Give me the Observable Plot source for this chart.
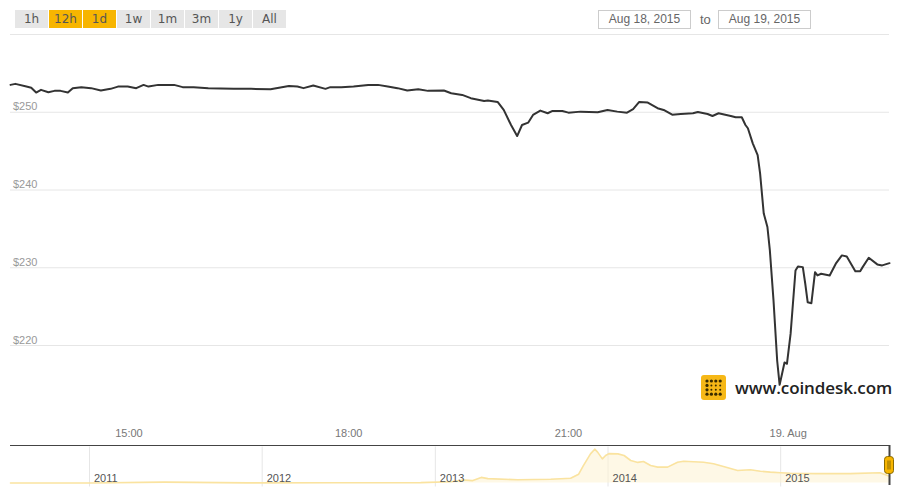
<!DOCTYPE html>
<html>
<head>
<meta charset="utf-8">
<script src="https://cdn.jsdelivr.net/npm/d3@7"></script>
<script src="https://cdn.jsdelivr.net/npm/@observablehq/plot@0.6"></script>
<style>
  body { margin: 0; background: #fff; }
  #wrap { position: relative; width: 900px; height: 500px; overflow: hidden; font-family: "Liberation Sans", Arial, sans-serif; }
  #main, #nav { position: absolute; left: 0; }
  #main { top: 0; }
  #nav { top: 440px; }
  .btn { position: absolute; top: 10px; height: 18px; width: 33px; background: #e6e6e6; color: #555;
         font: 12px "DejaVu Sans", sans-serif; line-height: 18px; text-align: center; z-index: 2; }
  .btn.sel { background: #f7b500; }
  .date { position: absolute; top: 10px; height: 19px; width: 93px; box-sizing: border-box; border: 1px solid #ccc;
          color: #666; font: 12px "Liberation Sans", Arial, sans-serif; line-height: 17px; text-align: center; background: #fff; z-index: 2; }
  .to { position: absolute; top: 11px; left: 700px; color: #666; font: 13px "Liberation Sans", Arial, sans-serif; line-height: 17px; z-index: 2; }
  #logo { position: absolute; left: 701px; top: 375px; z-index: 2; display: flex; align-items: center; }
  #logo span { margin-left: 9px; font: 600 17px "Open Sans", sans-serif; color: #222; letter-spacing: -0.1px; }
</style>
</head>
<body>
<div id="wrap">
  <div id="controls"></div>
  <div id="main"></div>
  <div id="nav"></div>
  <div id="logo"></div>
</div>
<script>
// ---------- data ----------
const rangeButtons = ["1h", "12h", "1d", "1w", "1m", "3m", "1y", "All"];
const selectedButtons = ["12h", "1d"];
const dateFrom = "Aug 18, 2015";
const dateTo = "Aug 19, 2015";

const priceTimes = [
  "2015-08-18 13:23","2015-08-18 13:27","2015-08-18 13:36","2015-08-18 13:40","2015-08-18 13:44","2015-08-18 13:48",
  "2015-08-18 13:54","2015-08-18 13:59","2015-08-18 14:04","2015-08-18 14:10","2015-08-18 14:14","2015-08-18 14:21",
  "2015-08-18 14:29","2015-08-18 14:37","2015-08-18 14:45","2015-08-18 14:51","2015-08-18 14:59","2015-08-18 15:06",
  "2015-08-18 15:12","2015-08-18 15:16","2015-08-18 15:24","2015-08-18 15:37","2015-08-18 15:44","2015-08-18 15:53",
  "2015-08-18 16:05","2015-08-18 16:15","2015-08-18 16:26","2015-08-18 16:40","2015-08-18 16:56","2015-08-18 17:11",
  "2015-08-18 17:18","2015-08-18 17:23","2015-08-18 17:31","2015-08-18 17:41","2015-08-18 17:45","2015-08-18 17:54",
  "2015-08-18 18:04","2015-08-18 18:16","2015-08-18 18:24","2015-08-18 18:32","2015-08-18 18:40","2015-08-18 18:48",
  "2015-08-18 18:57","2015-08-18 19:05","2015-08-18 19:18","2015-08-18 19:24","2015-08-18 19:33","2015-08-18 19:40",
  "2015-08-18 19:51","2015-08-18 19:54","2015-08-18 20:02","2015-08-18 20:07","2015-08-18 20:13","2015-08-18 20:18",
  "2015-08-18 20:22","2015-08-18 20:27","2015-08-18 20:31","2015-08-18 20:37","2015-08-18 20:43","2015-08-18 20:47",
  "2015-08-18 20:55","2015-08-18 21:00","2015-08-18 21:10","2015-08-18 21:24","2015-08-18 21:32","2015-08-18 21:40",
  "2015-08-18 21:48","2015-08-18 21:53","2015-08-18 21:58","2015-08-18 22:05","2015-08-18 22:13","2015-08-18 22:18",
  "2015-08-18 22:25","2015-08-18 22:32","2015-08-18 22:42","2015-08-18 22:46","2015-08-18 22:54","2015-08-18 22:58",
  "2015-08-18 23:03","2015-08-18 23:13","2015-08-18 23:17","2015-08-18 23:22","2015-08-18 23:25","2015-08-18 23:27",
  "2015-08-18 23:31","2015-08-18 23:35","2015-08-18 23:37","2015-08-18 23:40","2015-08-18 23:43","2015-08-18 23:45",
  "2015-08-18 23:48","2015-08-18 23:51","2015-08-18 23:53","2015-08-18 23:55","2015-08-18 23:57","2015-08-18 23:59",
  "2015-08-19 00:02","2015-08-19 00:06","2015-08-19 00:08","2015-08-19 00:12","2015-08-19 00:14","2015-08-19 00:16",
  "2015-08-19 00:19","2015-08-19 00:22","2015-08-19 00:24","2015-08-19 00:27","2015-08-19 00:34","2015-08-19 00:39",
  "2015-08-19 00:44","2015-08-19 00:48","2015-08-19 00:55","2015-08-19 00:59","2015-08-19 01:01","2015-08-19 01:06",
  "2015-08-19 01:13","2015-08-19 01:17","2015-08-19 01:23"
];
const priceValues = [
  253.52,253.65,253.30,253.14,252.53,252.88,
  252.58,252.75,252.75,252.53,253.10,253.23,
  253.10,252.79,253.01,253.30,253.30,253.10,
  253.52,253.30,253.52,253.52,253.23,253.23,
  253.10,253.05,253.01,253.01,252.97,253.39,
  253.30,253.10,253.43,253.01,253.23,253.23,
  253.30,253.52,253.52,253.30,253.10,252.79,
  252.97,252.75,252.79,252.45,252.23,251.81,
  251.46,251.50,251.33,250.30,248.36,246.94,
  248.36,248.66,249.65,250.21,249.87,250.17,
  250.17,249.95,250.08,250.00,250.30,250.08,
  249.95,250.39,251.33,251.24,250.52,250.30,
  249.69,249.78,249.87,250.04,249.78,249.52,
  249.87,249.52,249.35,249.35,248.36,247.94,
  246.00,244.49,242.13,236.97,235.24,232.23,
  225.78,218.04,214.94,216.36,217.82,217.65,
  221.52,229.65,230.17,230.08,227.94,225.56,
  225.43,229.43,229.01,229.23,229.01,230.52,
  231.59,231.46,229.56,229.56,230.08,231.29,
  230.43,230.30,230.59
];
const xDomain = ["2015-08-18 13:23", "2015-08-19 01:23"];
const yDomain = [210, 260];
const yGridTicks = [220, 230, 240, 250, 260];
const yLabelTicks = [220, 230, 240, 250];
const xTickTimes = ["2015-08-18 15:00", "2015-08-18 18:00", "2015-08-18 21:00", "2015-08-19 00:00"];
const xTickLabels = ["15:00", "18:00", "21:00", "19. Aug"];

// navigator (full history)
const navDates = [
  "2010-07-18","2011-01-01","2011-06-08","2011-12-01","2012-06-01","2012-12-01","2013-02-02","2013-03-03",
  "2013-03-20","2013-04-08","2013-04-22","2013-06-24","2013-09-02","2013-10-14","2013-10-31","2013-11-10",
  "2013-11-25","2013-12-04","2013-12-10","2013-12-20","2013-12-27","2014-01-03","2014-01-22","2014-02-04",
  "2014-02-18","2014-03-05","2014-03-17","2014-04-01","2014-04-16","2014-05-07","2014-05-28","2014-06-10",
  "2014-07-22","2014-08-12","2014-09-02","2014-10-02","2014-10-29","2014-11-19","2014-12-10","2015-01-01",
  "2015-01-21","2015-03-18","2015-05-28","2015-07-30","2015-08-19"
];
const navValues = [
  0.1,0.3,30,3,6,13,40,100,
  80,190,150,110,130,160,300,590,
  990,1150,1050,820,935,1000,990,935,
  765,700,730,595,540,540,705,740,
  705,655,560,425,450,400,370,350,
  330,320,320,350,230
];
const navDomain = ["2010-07-18", "2015-08-19"];
const navYDomain = [0, 1275];
const yearDates = ["2011-01-01", "2012-01-01", "2013-01-01", "2014-01-01", "2015-01-01"];
const yearLabels = ["2011", "2012", "2013", "2014", "2015"];
const logoText = "www.coindesk.com";

// ---------- controls ----------
const controls = document.getElementById("controls");
rangeButtons.forEach((b, i) => {
  const el = document.createElement("div");
  el.className = "btn" + (selectedButtons.includes(b) ? " sel" : "");
  el.style.left = (15 + i * 34) + "px";
  el.textContent = b;
  controls.appendChild(el);
});
const d1 = document.createElement("div"); d1.className = "date"; d1.style.left = "598px"; d1.textContent = dateFrom; controls.appendChild(d1);
const toEl = document.createElement("div"); toEl.className = "to"; toEl.textContent = "to"; controls.appendChild(toEl);
const d2 = document.createElement("div"); d2.className = "date"; d2.style.left = "718px"; d2.textContent = dateTo; controls.appendChild(d2);

// ---------- main chart ----------
const parseT = d3.utcParse("%Y-%m-%d %H:%M");
const parseD = d3.utcParse("%Y-%m-%d");
const priceData = priceTimes.map((t, i) => ({time: parseT(t), price: priceValues[i]}));
const xTicks = xTickTimes.map(parseT);
const tickLabelMap = new Map(xTicks.map((d, i) => [+d, xTickLabels[i]]));

const main = Plot.plot({
  width: 900,
  height: 445,
  marginLeft: 10,
  marginRight: 11,
  marginTop: 34,
  marginBottom: 22.25,
  style: {fontFamily: "'Liberation Sans', Arial, sans-serif", fontSize: "11px", color: "#777", background: "transparent"},
  x: {type: "utc", domain: xDomain.map(parseT), label: null},
  y: {domain: yDomain, axis: null},
  marks: [
    Plot.ruleY(yGridTicks, {stroke: "#e6e6e6", strokeWidth: 1}),
    Plot.text(yLabelTicks, {y: d => d, frameAnchor: "left", text: d => "$" + d, textAnchor: "start",
      lineAnchor: "middle", dx: 2.5, dy: -5.5, fill: "#999", fontSize: 11}),
    Plot.axisX(xTicks, {tickSize: 0, tickPadding: 5.5, tickFormat: d => tickLabelMap.get(+d), label: null, fill: "#777", fontSize: 11}),
    Plot.line(priceData, {x: "time", y: "price", stroke: "#333", strokeWidth: 2, curve: "linear"})
  ]
});
document.getElementById("main").appendChild(main);

// ---------- navigator ----------
const navData = navDates.map((d, i) => ({date: parseD(d), value: navValues[i]}));
const years = yearDates.map(parseD);
const yearMap = new Map(years.map((d, i) => [+d, yearLabels[i]]));
const navEnd = parseD(navDomain[1]);

const nav = Plot.plot({
  width: 900,
  height: 50,
  marginLeft: 10,
  marginRight: 11,
  marginTop: 5,
  marginBottom: 7.5,
  style: {fontFamily: "'Liberation Sans', Arial, sans-serif", fontSize: "11px", color: "#555", background: "transparent", overflow: "visible"},
  x: {type: "utc", domain: navDomain.map(parseD), axis: null},
  y: {domain: navYDomain, axis: null},
  marks: [
    Plot.ruleX(years, {stroke: "#e6e6e6", insetTop: 1.5, insetBottom: -4}),
    Plot.areaY(navData, {x: "date", y: "value", fill: "#fdf2d2", fillOpacity: 0.55}),
    Plot.lineY(navData, {x: "date", y: "value", stroke: "#fae3a0", strokeWidth: 1.6}),
    Plot.text(years, {x: d => d, frameAnchor: "bottom", text: d => yearMap.get(+d), textAnchor: "start",
      lineAnchor: "middle", dx: 4.5, dy: -4.5, fill: "#555", fontSize: 11}),
    Plot.ruleY([navYDomain[1]], {stroke: "#444", strokeWidth: 1.2}),
    Plot.ruleX([navEnd], {stroke: "#444", strokeWidth: 2, insetBottom: -2.5})
  ]
});
document.getElementById("nav").appendChild(nav);

// navigator handle (decoration)
{
  const svg = d3.select(nav);
  const hx = 889 - 4.5, hy = 16.5;
  const g = svg.append("g");
  g.append("rect").attr("x", hx).attr("y", hy).attr("width", 9).attr("height", 17).attr("rx", 3)
    .attr("fill", "#f7b500").attr("stroke", "#8a6a00").attr("stroke-width", 1);
  g.append("line").attr("x1", hx + 3.5).attr("x2", hx + 3.5).attr("y1", hy + 4).attr("y2", hy + 13).attr("stroke", "#8a6a00");
  g.append("line").attr("x1", hx + 5.5).attr("x2", hx + 5.5).attr("y1", hy + 4).attr("y2", hy + 13).attr("stroke", "#8a6a00");
}

// ---------- logo ----------
{
  const logo = d3.select("#logo");
  const s = logo.append("svg").attr("width", 25).attr("height", 25);
  s.append("rect").attr("width", 25).attr("height", 25).attr("rx", 3).attr("fill", "#f6b817");
  for (let r = 0; r < 4; r++) {
    for (let c = 0; c < 4; c++) {
      const big = r === 0 || r === 3 || c === 0;
      s.append("circle").attr("cx", 6 + c * 4.4).attr("cy", 6 + r * 4.4).attr("r", big ? 1.6 : 1.0).attr("fill", "#3a2c00");
    }
  }
  logo.append("span").text(logoText);
}
</script>
</body>
</html>
